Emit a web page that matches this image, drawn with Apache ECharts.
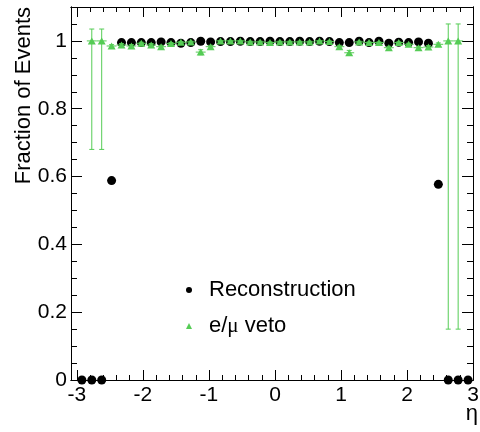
<!DOCTYPE html>
<html>
<head>
<meta charset="utf-8">
<script src="https://cdn.jsdelivr.net/npm/echarts@6/dist/echarts.min.js"></script>
<style>
  html, body { margin: 0; padding: 0; background: #fff; }
  #chart { width: 480px; height: 432px; }
</style>
</head>
<body>
<div id="chart"></div>
<script>
// eta bin centres (40 bins of width 0.15 between -3 and 3)
const etaCenters = [
  -2.925, -2.775, -2.625, -2.475, -2.325, -2.175, -2.025, -1.875, -1.725, -1.575,
  -1.425, -1.275, -1.125, -0.975, -0.825, -0.675, -0.525, -0.375, -0.225, -0.075,
   0.075,  0.225,  0.375,  0.525,  0.675,  0.825,  0.975,  1.125,  1.275,  1.425,
   1.575,  1.725,  1.875,  2.025,  2.175,  2.325,  2.475,  2.625,  2.775,  2.925
];
const halfBinWidth = 0.075;

// reconstruction efficiency per bin
const recoEff = [
  0, 0, 0, 0.588, 0.995, 0.995, 0.995, 0.995, 0.997, 0.995,
  0.993, 0.995, 0.999, 0.997, 0.998, 0.998, 0.999, 0.998, 0.998, 0.999,
  0.998, 0.998, 0.999, 0.998, 0.999, 0.998, 0.995, 0.995, 0.999, 0.995,
  0.999, 0.993, 0.996, 0.995, 0.997, 0.993, 0.577, 0, 0, 0
];

// e/mu veto efficiency per bin (null = empty bin)
const vetoEff = [
  null, 1.0, 1.0, 0.985, 0.988, 0.985, 0.993, 0.988, 0.983, 0.992,
  0.996, 0.997, 0.967, 0.983, 1.0, 1.0, 1.0, 0.997, 0.997, 0.995,
  0.997, 0.997, 0.997, 0.997, 1.0, 0.998, 0.983, 0.965, 0.997, 0.995,
  0.995, 0.980, 0.995, 0.990, 0.980, 0.982, 0.990, 1.0, 1.0, null
];
const vetoErrLow = [
  0, 0.32, 0.32, 0.005, 0.004, 0.004, 0.004, 0.004, 0.005, 0.004,
  0.003, 0.003, 0.008, 0.005, 0.002, 0.002, 0.002, 0.003, 0.003, 0.003,
  0.003, 0.003, 0.003, 0.003, 0.002, 0.003, 0.005, 0.008, 0.003, 0.003,
  0.003, 0.005, 0.003, 0.004, 0.005, 0.005, 0.005, 0.85, 0.85, 0
];
const vetoErrHigh = [
  0, 0.035, 0.035, 0.004, 0.004, 0.004, 0.003, 0.004, 0.004, 0.003,
  0.002, 0.002, 0.007, 0.004, 0.0, 0.0, 0.0, 0.002, 0.002, 0.002,
  0.002, 0.002, 0.002, 0.002, 0.0, 0.002, 0.004, 0.007, 0.002, 0.002,
  0.002, 0.004, 0.002, 0.003, 0.004, 0.004, 0.004, 0.05, 0.05, 0
];

// axis ticks
const xMajorTicks = [-3, -2, -1, 0, 1, 2, 3];
const xMinorTicks = [-2.8, -2.6, -2.4, -2.2, -1.8, -1.6, -1.4, -1.2, -0.8, -0.6, -0.4, -0.2,
                      0.2, 0.4, 0.6, 0.8, 1.2, 1.4, 1.6, 1.8, 2.2, 2.4, 2.6, 2.8];
const yMajorTicks = [0, 0.2, 0.4, 0.6, 0.8, 1];
const yMinorTicks = [0.05, 0.1, 0.15, 0.25, 0.3, 0.35, 0.45, 0.5, 0.55, 0.65, 0.7, 0.75,
                     0.85, 0.9, 0.95, 1.05];

const FONT = "'Liberation Sans', Arial, Helvetica, sans-serif";
const GREEN = '#55cc55';
const X_MIN = -3.09, X_MAX = 3.0, Y_MIN = 0, Y_MAX = 1.1;

const recoData = etaCenters.map((x, i) => [x, recoEff[i]]);
const vetoData = [];
const vetoErrData = [];
etaCenters.forEach((x, i) => {
  if (vetoEff[i] === null) return;
  vetoData.push([x, vetoEff[i]]);
  vetoErrData.push([x, vetoEff[i], vetoEff[i] - vetoErrLow[i], vetoEff[i] + vetoErrHigh[i]]);
});

function xAxisDef(position, ticks, len, labels) {
  return {
    type: 'value', position: position, min: X_MIN, max: X_MAX,
    axisLine: { show: true, onZero: false, lineStyle: { color: '#000', width: 1 } },
    axisTick: { show: true, inside: true, length: len, customValues: ticks,
                lineStyle: { color: '#000', width: 1 } },
    axisLabel: labels ? {
      show: true, customValues: xMajorTicks, margin: 5,
      color: '#000', fontSize: 21, fontFamily: FONT
    } : { show: false },
    splitLine: { show: false }
  };
}
function yAxisDef(position, ticks, len, labels) {
  return {
    type: 'value', position: position, min: Y_MIN, max: Y_MAX,
    axisLine: { show: true, onZero: false, lineStyle: { color: '#000', width: 1 } },
    axisTick: { show: true, inside: true, length: len, customValues: ticks,
                lineStyle: { color: '#000', width: 1 } },
    axisLabel: labels ? {
      show: true, customValues: yMajorTicks, margin: 4,
      color: '#000', fontSize: 21, fontFamily: FONT
    } : { show: false },
    splitLine: { show: false }
  };
}

const chart = echarts.init(document.getElementById('chart'), null, { renderer: 'canvas' });
chart.setOption({
  animation: false,
  backgroundColor: '#fff',
  grid: { left: 71, right: 7, top: 7, bottom: 52, containLabel: false, outerBoundsMode: 'none' },
  xAxis: [
    xAxisDef('bottom', xMajorTicks, 10, true),
    xAxisDef('bottom', xMinorTicks, 5, false),
    xAxisDef('top', xMajorTicks, 10, false),
    xAxisDef('top', xMinorTicks, 5, false)
  ],
  yAxis: [
    yAxisDef('left', yMajorTicks, 11, true),
    yAxisDef('left', yMinorTicks, 6, false),
    yAxisDef('right', yMajorTicks, 11, false),
    yAxisDef('right', yMinorTicks, 6, false)
  ],
  legend: {
    orient: 'vertical', left: 181, top: 274, itemGap: 14,
    itemWidth: 6, itemHeight: 6, itemStyle: { borderWidth: 0, opacity: 1 },
    data: [
      { name: 'Reconstruction', icon: 'circle' },
      { name: 'e/μ veto', icon: 'triangle' }
    ],
    formatter: function (name) {
      if (name === 'e/μ veto') return '{t|e/}{g|μ}{t| veto}';
      return '{t|' + name + '}';
    },
    textStyle: {
      color: '#000', fontSize: 22, fontFamily: FONT, lineHeight: 22,
      padding: [0, 0, 0, 12],
      rich: {
        t: { color: '#000', fontSize: 22, fontFamily: FONT },
        g: { color: '#000', fontSize: 21, fontFamily: "'Liberation Serif', 'DejaVu Serif', serif" }
      }
    }
  },
  series: [
    {
      name: 'Reconstruction', type: 'scatter', data: recoData,
      symbol: 'circle', symbolSize: 9, clip: false, z: 2,
      itemStyle: { color: '#000', opacity: 1 }
    },
    {
      name: 'veto errors', type: 'custom', data: vetoErrData, z: 3, clip: false,
      renderItem: function (params, api) {
        const x = api.value(0), y = api.value(1), lo = api.value(2), hi = api.value(3);
        const pLo = api.coord([x, lo]);
        const pHi = api.coord([x, hi]);
        const pL = api.coord([x - halfBinWidth, y]);
        const pR = api.coord([x + halfBinWidth, y]);
        const cap = 2.5;
        const st = { stroke: GREEN, lineWidth: 1 };
        return {
          type: 'group',
          children: [
            { type: 'line', shape: { x1: pLo[0], y1: pLo[1], x2: pHi[0], y2: pHi[1] }, style: st },
            { type: 'line', shape: { x1: pL[0], y1: pL[1], x2: pR[0], y2: pR[1] }, style: st },
            { type: 'line', shape: { x1: pHi[0] - cap, y1: pHi[1], x2: pHi[0] + cap, y2: pHi[1] }, style: st },
            { type: 'line', shape: { x1: pLo[0] - cap, y1: pLo[1], x2: pLo[0] + cap, y2: pLo[1] }, style: st }
          ]
        };
      }
    },
    {
      name: 'e/μ veto', type: 'scatter', data: vetoData,
      symbol: 'triangle', symbolSize: [8, 7], clip: false, z: 4,
      itemStyle: { color: GREEN, opacity: 1 }
    }
  ],
  graphic: [
    {
      type: 'text', x: 24, y: 7, rotation: Math.PI / 2,
      style: { text: 'Fraction of Events', fill: '#000', fontSize: 22, fontFamily: FONT,
               textAlign: 'right', textVerticalAlign: 'middle' }
    },
    {
      type: 'text', x: 478, y: 414,
      style: { text: 'η', fill: '#000', fontSize: 22, fontFamily: FONT,
               textAlign: 'right', textVerticalAlign: 'middle' }
    }
  ]
});
</script>
</body>
</html>
